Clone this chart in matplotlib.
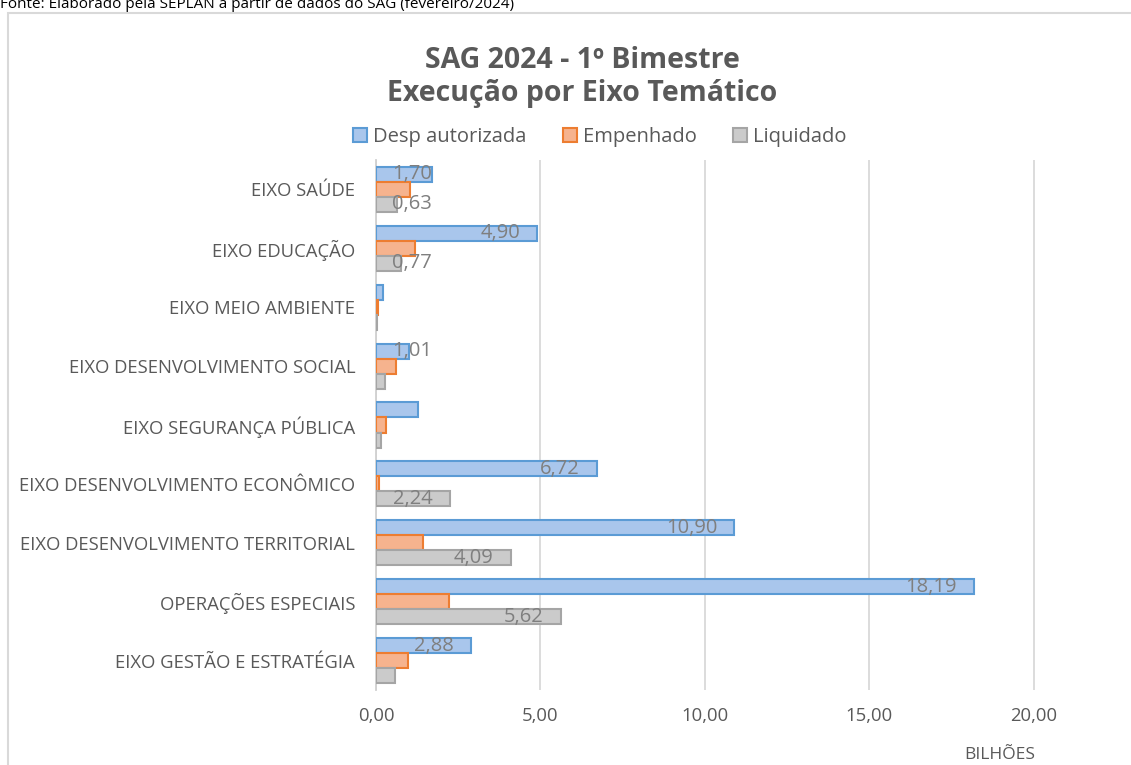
import matplotlib.pyplot as plt
from matplotlib.patches import Rectangle
import numpy as np

plt.rcParams['font.family'] = ['Open Sans', 'DejaVu Sans']

# Dados (bilhões)
categorias = ['EIXO SAÚDE', 'EIXO EDUCAÇÃO', 'EIXO MEIO AMBIENTE',
              'EIXO DESENVOLVIMENTO SOCIAL', 'EIXO SEGURANÇA PÚBLICA',
              'EIXO DESENVOLVIMENTO ECONÔMICO', 'EIXO DESENVOLVIMENTO TERRITORIAL',
              'OPERAÇÕES ESPECIAIS', 'EIXO GESTÃO E ESTRATÉGIA']
desp_autorizada = [1.70, 4.90, 0.21, 1.01, 1.28, 6.72, 10.90, 18.19, 2.88]
empenhado = [1.03, 1.19, 0.05, 0.60, 0.30, 0.08, 1.43, 2.22, 0.97]
liquidado = [0.63, 0.77, 0.03, 0.27, 0.15, 2.24, 4.09, 5.62, 0.57]

# rótulos que aparecem no gráfico original
rotulos_desp = [True, True, False, True, False, True, True, True, True]
rotulos_liq = [True, True, False, False, False, True, True, True, False]

texto = '#595959'
cinza_rot = '#7f7f7f'

fig = plt.figure(figsize=(11.31, 7.65), dpi=100)
ax = fig.add_axes([376/1131, 1-690/765, (1116-376)/1131, 530/765])

y = np.arange(len(categorias))
h = 0.255

series = [
    (desp_autorizada, -h, '#a9c6ec', '#5b9bd5', 'Desp autorizada', rotulos_desp),
    (empenhado, 0, '#f6b38e', '#ed7d31', 'Empenhado', None),
    (liquidado, h, '#cbcbcb', '#a5a5a5', 'Liquidado', rotulos_liq),
]

for vals, off, fc, ec, nome, rot in series:
    ax.barh(y + off, vals, height=h, color=fc, edgecolor=ec, linewidth=1.5,
            label=nome, zorder=3)
    if rot is not None:
        for yi, v, mostra in zip(y, vals, rot):
            if mostra:
                xr = max(v - 0.52, 1.70)
                ax.text(xr, yi + off, f'{v:.2f}'.replace('.', ','), ha='right',
                        va='center', fontsize=14.5, color=cinza_rot, zorder=4)

ax.set_xlim(0, 22.5)
ax.set_ylim(len(categorias) - 0.5, -0.5)
ax.set_xticks([0, 5, 10, 15, 20])
ax.set_xticklabels(['0,00', '5,00', '10,00', '15,00', '20,00'])
ax.set_yticks(y)
ax.set_yticklabels(categorias)
ax.tick_params(axis='both', length=0, labelsize=13.3, labelcolor=texto)
ax.tick_params(axis='x', pad=12)
ax.tick_params(axis='y', pad=15)
ax.grid(axis='x', color='#d9d9d9', linewidth=1.3, zorder=0)
for s in ['top', 'right', 'bottom']:
    ax.spines[s].set_visible(False)
ax.spines['left'].set_color('#d0d0d0')
ax.spines['left'].set_linewidth(1.3)

fig.text(582/1131, 1-61/765, 'SAG 2024 - 1º Bimestre', ha='center', va='center',
         fontsize=20.5, fontweight='bold', color=texto)
fig.text(582/1131, 1-93/765, 'Execução por Eixo Temático', ha='center', va='center',
         fontsize=20.5, fontweight='bold', color=texto)

fig.legend(loc='center', bbox_to_anchor=(600/1131, 1-137/765), ncol=3, frameon=False,
           fontsize=14.5, labelcolor=texto, handlelength=0.7, handleheight=0.7,
           handletextpad=0.3, columnspacing=1.8)

fig.text(1000/1131, 1-755/765, 'BILHÕES', ha='center', va='center',
         fontsize=12.5, color=texto)

fig.text(0, 1-8/765, 'Fonte: Elaborado pela SEPLAN a partir de dados do SAG (fevereiro/2024)',
         ha='left', va='baseline', fontsize=11, color='#000000')

fig.patches.append(Rectangle((8/1131, -0.1), 1.2, 0.1 + 1 - 13/765, transform=fig.transFigure,
                             fill=False, edgecolor='#d9d9d9', linewidth=1.5))

fig.savefig('out.png', dpi=100)
